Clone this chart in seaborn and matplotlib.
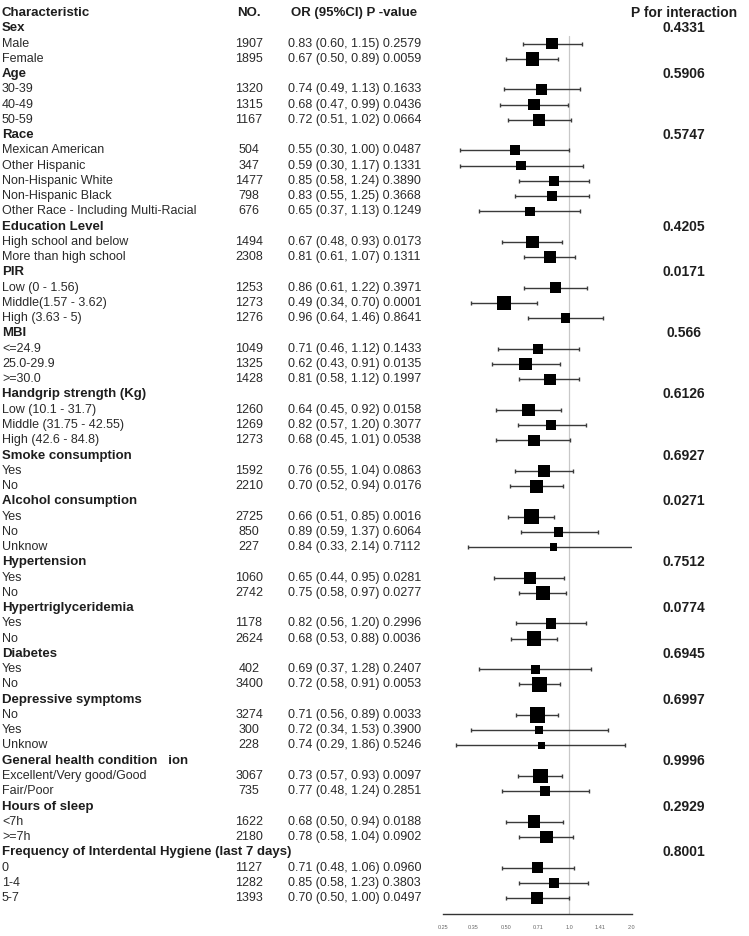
import numpy as np
import pandas as pd
import matplotlib
matplotlib.use('Agg')
import matplotlib.pyplot as plt
from matplotlib.ticker import NullLocator
import seaborn as sns

sns.set_style('white')
plt.rcParams['font.family'] = ['Liberation Sans', 'DejaVu Sans']

# Lignes du tableau (None = ligne de titre de groupe)
labels = [
    'Sex', 'Male', 'Female',
    'Age', '30-39', '40-49', '50-59',
    'Race', 'Mexican American', 'Other Hispanic', 'Non-Hispanic White',
    'Non-Hispanic Black', 'Other Race - Including Multi-Racial',
    'Education Level', 'High school and below', 'More than high school',
    'PIR', 'Low (0 - 1.56)', 'Middle(1.57 - 3.62)', 'High (3.63 - 5)',
    'MBI', '<=24.9', '25.0-29.9', '>=30.0',
    'Handgrip strength (Kg)', 'Low (10.1 - 31.7)', 'Middle (31.75 - 42.55)', 'High (42.6 - 84.8)',
    'Smoke consumption', 'Yes', 'No',
    'Alcohol consumption', 'Yes', 'No', 'Unknow',
    'Hypertension', 'Yes', 'No',
    'Hypertriglyceridemia', 'Yes', 'No',
    'Diabetes', 'Yes', 'No',
    'Depressive symptoms', 'No', 'Yes', 'Unknow',
    'General health condition   ion', 'Excellent/Very good/Good', 'Fair/Poor',
    'Hours of sleep', '<7h', '>=7h',
    'Frequency of Interdental Hygiene (last 7 days)', '0', '1-4', '5-7',
]
counts = [
    None, 1907, 1895,
    None, 1320, 1315, 1167,
    None, 504, 347, 1477, 798, 676,
    None, 1494, 2308,
    None, 1253, 1273, 1276,
    None, 1049, 1325, 1428,
    None, 1260, 1269, 1273,
    None, 1592, 2210,
    None, 2725, 850, 227,
    None, 1060, 2742,
    None, 1178, 2624,
    None, 402, 3400,
    None, 3274, 300, 228,
    None, 3067, 735,
    None, 1622, 2180,
    None, 1127, 1282, 1393,
]
odds = [
    None, 0.83, 0.67,
    None, 0.74, 0.68, 0.72,
    None, 0.55, 0.59, 0.85, 0.83, 0.65,
    None, 0.67, 0.81,
    None, 0.86, 0.49, 0.96,
    None, 0.71, 0.62, 0.81,
    None, 0.64, 0.82, 0.68,
    None, 0.76, 0.70,
    None, 0.66, 0.89, 0.84,
    None, 0.65, 0.75,
    None, 0.82, 0.68,
    None, 0.69, 0.72,
    None, 0.71, 0.72, 0.74,
    None, 0.73, 0.77,
    None, 0.68, 0.78,
    None, 0.71, 0.85, 0.70,
]
ci_low = [
    None, 0.60, 0.50,
    None, 0.49, 0.47, 0.51,
    None, 0.30, 0.30, 0.58, 0.55, 0.37,
    None, 0.48, 0.61,
    None, 0.61, 0.34, 0.64,
    None, 0.46, 0.43, 0.58,
    None, 0.45, 0.57, 0.45,
    None, 0.55, 0.52,
    None, 0.51, 0.59, 0.33,
    None, 0.44, 0.58,
    None, 0.56, 0.53,
    None, 0.37, 0.58,
    None, 0.56, 0.34, 0.29,
    None, 0.57, 0.48,
    None, 0.50, 0.58,
    None, 0.48, 0.58, 0.50,
]
ci_high = [
    None, 1.15, 0.89,
    None, 1.13, 0.99, 1.02,
    None, 1.00, 1.17, 1.24, 1.25, 1.13,
    None, 0.93, 1.07,
    None, 1.22, 0.70, 1.46,
    None, 1.12, 0.91, 1.12,
    None, 0.92, 1.20, 1.01,
    None, 1.04, 0.94,
    None, 0.85, 1.37, 2.14,
    None, 0.95, 0.97,
    None, 1.20, 0.88,
    None, 1.28, 0.91,
    None, 0.89, 1.53, 1.86,
    None, 0.93, 1.24,
    None, 0.94, 1.04,
    None, 1.06, 1.23, 1.00,
]
p_values = [
    None, 0.2579, 0.0059,
    None, 0.1633, 0.0436, 0.0664,
    None, 0.0487, 0.1331, 0.3890, 0.3668, 0.1249,
    None, 0.0173, 0.1311,
    None, 0.3971, 0.0001, 0.8641,
    None, 0.1433, 0.0135, 0.1997,
    None, 0.0158, 0.3077, 0.0538,
    None, 0.0863, 0.0176,
    None, 0.0016, 0.6064, 0.7112,
    None, 0.0281, 0.0277,
    None, 0.2996, 0.0036,
    None, 0.2407, 0.0053,
    None, 0.0033, 0.3900, 0.5246,
    None, 0.0097, 0.2851,
    None, 0.0188, 0.0902,
    None, 0.0960, 0.3803, 0.0497,
]
p_interaction = {
    'Sex': '0.4331', 'Age': '0.5906', 'Race': '0.5747', 'Education Level': '0.4205',
    'PIR': '0.0171', 'MBI': '0.566', 'Handgrip strength (Kg)': '0.6126',
    'Smoke consumption': '0.6927', 'Alcohol consumption': '0.0271',
    'Hypertension': '0.7512', 'Hypertriglyceridemia': '0.0774', 'Diabetes': '0.6945',
    'Depressive symptoms': '0.6997', 'General health condition   ion': '0.9996',
    'Hours of sleep': '0.2929', 'Frequency of Interdental Hygiene (last 7 days)': '0.8001',
}
tick_labels = ['0.25', '0.35', '0.50', '0.71', '1.0', '1.41', '2.0']

# Géométrie (pixels)
W, H = 749, 936
ROW0, STEP = 13, 15.26
AX_X0, AX_X1, AX_Y = 443, 632, 914


def px_to_row(py):
    return (py - ROW0) / STEP


df = pd.DataFrame({'label': labels, 'n': counts, 'odds': odds,
                   'lo': ci_low, 'hi': ci_high, 'p': p_values})
df['row'] = np.arange(1, len(df) + 1)
df['group'] = df['n'].isna()
est = df[~df['group']].copy()
est['n'] = est['n'].astype(int)

# taille des carrés selon la précision
side_px = 5.5 + 3.2 / (est['hi'] - est['lo'])
est['area'] = (side_px * 72 / 100) ** 2

fig = plt.figure(figsize=(W / 100, H / 100), dpi=100)

# Tableau de texte
tab = fig.add_axes([0, 0, 1, 1])
tab.set_xlim(0, W)
tab.set_ylim(px_to_row(H), px_to_row(0))
tab.axis('off')

txt = '#1e1e1e'
tab.text(2, 0, 'Characteristic', fontsize=9.5, fontweight='bold', va='center', color=txt)
tab.text(249, 0, 'NO.', fontsize=9.5, fontweight='bold', va='center', ha='center', color=txt)
tab.text(291, 0, 'OR (95%CI) P -value', fontsize=9.5, fontweight='bold', va='center', color=txt)
tab.text(684, 0, 'P for interaction', fontsize=10, fontweight='bold', va='center', ha='center', color=txt)

for _, r in df.iterrows():
    if r['group']:
        tab.text(2, r['row'], r['label'], fontsize=9.5, fontweight='bold', va='center', color=txt)
        tab.text(684, r['row'], p_interaction[r['label']], fontsize=10, fontweight='bold',
                 va='center', ha='center', color=txt)
    else:
        tab.text(2, r['row'], r['label'], fontsize=9, va='center', color='#2a2a2a')
        tab.text(249, r['row'], f"{int(r['n'])}", fontsize=9, va='center', ha='center', color='#2a2a2a')
        tab.text(288, r['row'],
                 f"{r['odds']:.2f} ({r['lo']:.2f}, {r['hi']:.2f}) {r['p']:.4f}",
                 fontsize=9, va='center', color='#2a2a2a')

# Forest plot
ax = fig.add_axes([AX_X0 / W, (H - AX_Y) / H, (AX_X1 - AX_X0) / W, (AX_Y - 5) / H])
ax.patch.set_alpha(0)
ax.set_xscale('log', base=2)
ax.set_xlim(0.25, 2.0)
ax.set_ylim(px_to_row(AX_Y), px_to_row(5))

ax.plot([1, 1], [1.5, px_to_row(AX_Y)], color='#c8c8c8', lw=0.9, zorder=1)
ax.hlines(est['row'], est['lo'], est['hi'], color='#3a3a3a', lw=1.0, zorder=2)
ax.plot(est['lo'], est['row'], ls='none', marker='|', ms=3.5, mew=1.0, color='#3a3a3a', zorder=2)
ax.plot(est['hi'], est['row'], ls='none', marker='|', ms=3.5, mew=1.0, color='#3a3a3a', zorder=2)

amin, amax = est['area'].min(), est['area'].max()
sns.scatterplot(data=est, x='odds', y='row', size='area', sizes=(amin, amax),
                size_norm=(amin, amax), marker='s', color='black', linewidth=0,
                legend=False, ax=ax, zorder=3)

ax.set_xlabel('')
ax.set_ylabel('')
ax.set_yticks([])
ax.set_xticks([float(t) for t in tick_labels])
ax.set_xticklabels(tick_labels)
ax.xaxis.set_minor_locator(NullLocator())
for s in ['top', 'left', 'right']:
    ax.spines[s].set_visible(False)
ax.spines['bottom'].set_color('#333333')
ax.spines['bottom'].set_linewidth(1.0)
ax.tick_params(axis='x', direction='out', length=4, width=1, color='#333333',
               labelsize=4, labelcolor='#666666', pad=4)

fig.savefig('out.png', dpi=100)
